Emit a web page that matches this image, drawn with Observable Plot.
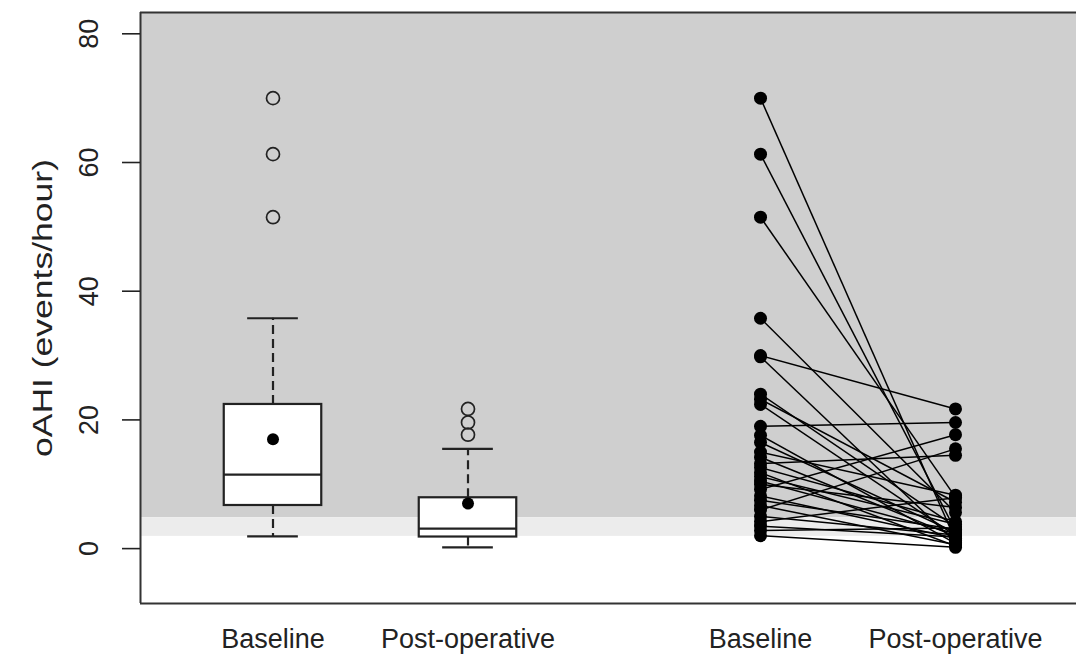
<!DOCTYPE html>
<html>
<head>
<meta charset="utf-8">
<script src="https://cdn.jsdelivr.net/npm/d3@7"></script>
<script src="https://cdn.jsdelivr.net/npm/@observablehq/plot@0.6"></script>
<style>
  html, body { margin: 0; padding: 0; background: #ffffff; overflow: hidden; }
  #chart svg { display: block; }
</style>
</head>
<body>
<div id="chart"></div>
<script>
// ---- Data ----
const groupLabels = ["Baseline", "Post-operative", "Baseline", "Post-operative"];
const groupPositions = [1, 2, 3.5, 4.5];

// Box plot summary (oAHI, events/hour)
const boxPositions = [1, 2];
const boxQ1 = [6.7, 1.8];
const boxMedian = [11.5, 3.1];
const boxQ3 = [22.4, 7.9];
const whiskerLow = [1.9, 0.2];
const whiskerHigh = [35.8, 15.5];
const boxMean = [17.0, 7.0];
const outliersBaseline = [70.0, 61.3, 51.5];
const outliersPostop = [21.7, 19.6, 17.7];

// Paired individual values
const baseline = [70.0, 61.3, 51.5, 35.8, 30.0, 29.8, 24.0, 23.2, 22.4, 19.0,
                  17.6, 16.5, 15.0, 14.2, 13.2, 12.6, 11.8, 11.2, 10.5, 10.0,
                  9.2, 8.2, 7.5, 6.7, 6.0, 5.0, 4.2, 3.5, 2.8, 2.0];
const postop   = [1.3, 2.8, 8.0, 5.6, 21.7, 1.0, 3.4, 7.2, 2.0, 19.6,
                  0.8, 2.5, 8.3, 1.9, 14.5, 4.2, 0.4, 3.8, 2.3, 6.4,
                  17.7, 1.6, 3.0, 0.6, 15.5, 2.1, 7.9, 1.8, 3.2, 0.2];

// Reference bands
const bandLight = [1.9, 4.8];
const yTicks = [0, 20, 40, 60, 80];
const yLabel = "oAHI (events/hour)";

// ---- Derived tables ----
const xDomain = [0.3205, 5.1205];
const yDomain = [-8.53, 83.31];
const boxes = boxPositions.map((p, i) => ({
  p, q1: boxQ1[i], med: boxMedian[i], q3: boxQ3[i],
  lo: whiskerLow[i], hi: whiskerHigh[i], mean: boxMean[i]
}));
const outliers = [
  ...outliersBaseline.map(v => ({p: boxPositions[0], v})),
  ...outliersPostop.map(v => ({p: boxPositions[1], v}))
];
const pairs = baseline.map((b, i) => ({b, a: postop[i]}));
const pairDots = [
  ...baseline.map(v => ({p: groupPositions[2], v})),
  ...postop.map(v => ({p: groupPositions[3], v}))
];
const labels = groupLabels.map((t, i) => ({t, p: groupPositions[i]}));

const ink = "#222";
const boxHalf = 0.25, capHalf = 0.13;

const chart = Plot.plot({
  width: 1076,
  height: 656,
  marginLeft: 140,
  marginRight: 0,
  marginTop: 12,
  marginBottom: 53,
  style: {fontFamily: "'Liberation Sans', Arial, Helvetica, sans-serif", background: "#ffffff"},
  x: {type: "linear", domain: xDomain, axis: null},
  y: {type: "linear", domain: yDomain, axis: null},
  marks: [
    // background bands
    Plot.rect([0], {x1: xDomain[0], x2: xDomain[1], y1: bandLight[1], y2: yDomain[1], fill: "#cfcfcf"}),
    Plot.rect([0], {x1: xDomain[0], x2: xDomain[1], y1: bandLight[0], y2: bandLight[1], fill: "#ececec"}),
    // whiskers
    Plot.ruleX(boxes, {x: "p", y1: "q3", y2: "hi", stroke: ink, strokeWidth: 2.2, strokeDasharray: "9,5"}),
    Plot.ruleX(boxes, {x: "p", y1: "q1", y2: "lo", stroke: ink, strokeWidth: 2.2, strokeDasharray: "9,5"}),
    Plot.ruleY(boxes, {y: "hi", x1: d => d.p - capHalf, x2: d => d.p + capHalf, stroke: ink, strokeWidth: 2.2}),
    Plot.ruleY(boxes, {y: "lo", x1: d => d.p - capHalf, x2: d => d.p + capHalf, stroke: ink, strokeWidth: 2.2}),
    // boxes
    Plot.rect(boxes, {x1: d => d.p - boxHalf, x2: d => d.p + boxHalf, y1: "q1", y2: "q3", fill: "#ffffff", stroke: ink, strokeWidth: 2.2}),
    Plot.ruleY(boxes, {y: "med", x1: d => d.p - boxHalf, x2: d => d.p + boxHalf, stroke: ink, strokeWidth: 2.2}),
    Plot.dot(boxes, {x: "p", y: "mean", r: 6, fill: "#000", stroke: "none"}),
    Plot.dot(outliers, {x: "p", y: "v", r: 6.5, fill: "none", stroke: ink, strokeWidth: 1.7}),
    // paired lines
    Plot.link(pairs, {x1: groupPositions[2], x2: groupPositions[3], y1: "b", y2: "a", stroke: "#000", strokeWidth: 1.5}),
    Plot.dot(pairDots, {x: "p", y: "v", r: 6.5, fill: "#000", stroke: "none"}),
    // frame (left, top, bottom)
    Plot.ruleX([xDomain[0]], {stroke: "#333", strokeWidth: 2}),
    Plot.ruleY([yDomain[0], yDomain[1]], {stroke: "#333", strokeWidth: 2}),
    // y axis ticks and labels
    Plot.axisY(yTicks, {anchor: "left", tickSize: 18, tickFormat: () => "", stroke: ink, strokeWidth: 1.6, label: null}),
    Plot.text(yTicks, {y: d => d, text: d => String(d), frameAnchor: "left", textAnchor: "middle", dx: -51, rotate: -90, fontSize: 27, fill: ink}),
    Plot.text([yLabel], {text: d => d, frameAnchor: "left", textAnchor: "middle", dx: -97, rotate: -90, fontSize: 27, fill: ink, className: "ylab"}),
    // x labels
    Plot.text(labels, {x: "p", text: "t", frameAnchor: "bottom", dy: 44, fontSize: 27, fill: ink})
  ]
});
document.getElementById("chart").append(chart);
// stretch the y title to the length it has in the reference
d3.select(chart).selectAll(".ylab text").attr("textLength", 298).attr("lengthAdjust", "spacingAndGlyphs");
</script>
</body>
</html>
